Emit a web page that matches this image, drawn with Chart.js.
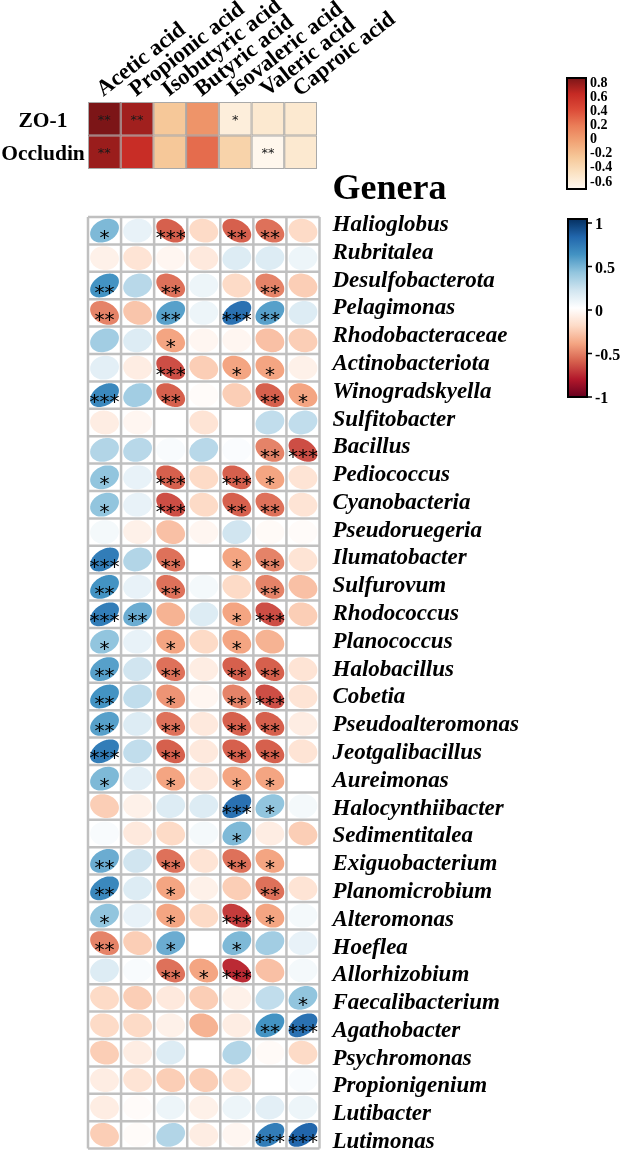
<!DOCTYPE html>
<html><head><meta charset="utf-8">
<script src="https://cdn.jsdelivr.net/npm/chart.js@4.4.1/dist/chart.umd.min.js"></script>
<style>
html,body{margin:0;padding:0;background:#fff;}
#wrap{position:relative;width:624px;height:1158px;overflow:hidden;}
#wrap canvas{position:absolute;left:0;top:0;}
</style></head><body>
<div id="wrap"><canvas id="cTop" width="624" height="1158"></canvas><canvas id="cBot" width="624" height="1158"></canvas></div>
<script>
// ---------- DATA ----------
const acids = ["Acetic acid","Propionic acid","Isobutyric acid","Butyric acid","Isovaleric acid","Valeric acid","Caproic acid"];
const proteins = ["ZO-1","Occludin"];
const zo1Values = [0.80, 0.70, -0.20, 0.08, -0.50, -0.45, -0.45];
const zo1Sig = ["**","**","","","*","",""];
const occludinValues = [0.72, 0.58, -0.20, 0.27, -0.28, -0.58, -0.45];
const occludinSig = ["**","","","","","**",""];
const topLegendTicks = [0.8,0.6,0.4,0.2,0,-0.2,-0.4,-0.6];
const corrLegendTicks = [1,0.5,0,-0.5,-1];

const genera = ["Halioglobus","Rubritalea","Desulfobacterota","Pelagimonas","Rhodobacteraceae","Actinobacteriota","Winogradskyella","Sulfitobacter","Bacillus","Pediococcus","Cyanobacteria","Pseudoruegeria","Ilumatobacter","Sulfurovum","Rhodococcus","Planococcus","Halobacillus","Cobetia","Pseudoalteromonas","Jeotgalibacillus","Aureimonas","Halocynthiibacter","Sedimentitalea","Exiguobacterium","Planomicrobium","Alteromonas","Hoeflea","Allorhizobium","Faecalibacterium","Agathobacter","Psychromonas","Propionigenium","Lutibacter","Lutimonas"];

const corrValues = [
 [ 0.45, 0.10,-0.60,-0.20,-0.60,-0.55,-0.20],
 [-0.08,-0.15,-0.05,-0.12, 0.15, 0.15, 0.08],
 [ 0.60, 0.28,-0.55, 0.08,-0.20,-0.50,-0.25],
 [-0.50,-0.28, 0.55, 0.08, 0.75, 0.55, 0.15],
 [ 0.35, 0.15,-0.40,-0.05,-0.05,-0.30,-0.25],
 [ 0.12,-0.10,-0.65,-0.25,-0.40,-0.40,-0.08],
 [ 0.65, 0.35,-0.60,-0.02,-0.25,-0.60,-0.40],
 [-0.10,-0.05, 0.00,-0.15, 0.00, 0.25, 0.25],
 [ 0.30, 0.28, 0.03, 0.28, 0.02,-0.50,-0.65],
 [ 0.40, 0.10,-0.60,-0.20,-0.60,-0.40,-0.15],
 [ 0.40, 0.10,-0.65,-0.20,-0.60,-0.55,-0.15],
 [ 0.05,-0.08,-0.30,-0.05, 0.20,-0.03,-0.02],
 [ 0.70, 0.30,-0.55, 0.00,-0.40,-0.50,-0.15],
 [ 0.60, 0.10,-0.55, 0.05,-0.20,-0.50,-0.30],
 [ 0.70, 0.50,-0.35, 0.15,-0.40,-0.65,-0.25],
 [ 0.40, 0.10,-0.40,-0.20,-0.40,-0.35, 0.00],
 [ 0.55, 0.20,-0.55,-0.10,-0.60,-0.60,-0.15],
 [ 0.60, 0.25,-0.45,-0.05,-0.50,-0.65,-0.15],
 [ 0.55, 0.15,-0.55,-0.12,-0.60,-0.60,-0.10],
 [ 0.70, 0.25,-0.60,-0.12,-0.60,-0.60,-0.15],
 [ 0.45, 0.12,-0.40,-0.12,-0.40,-0.40, 0.00],
 [-0.25,-0.08, 0.15, 0.15, 0.75, 0.40, 0.05],
 [ 0.03,-0.12,-0.20, 0.05, 0.45,-0.10,-0.25],
 [ 0.50, 0.20,-0.55,-0.15,-0.55,-0.40, 0.00],
 [ 0.65, 0.15,-0.40,-0.08,-0.25,-0.55,-0.15],
 [ 0.40, 0.10,-0.40,-0.20,-0.70,-0.40, 0.05],
 [-0.50,-0.25, 0.50, 0.00, 0.45, 0.35, 0.10],
 [ 0.15, 0.03,-0.55,-0.40,-0.75,-0.30, 0.05],
 [-0.20,-0.25,-0.12,-0.25,-0.08, 0.25, 0.40],
 [-0.20,-0.20,-0.08,-0.35,-0.10, 0.60, 0.75],
 [-0.25,-0.10, 0.15, 0.00, 0.30,-0.03,-0.20],
 [-0.10,-0.15,-0.25,-0.25,-0.15, 0.00, 0.03],
 [-0.10,-0.02, 0.08,-0.08, 0.08, 0.12, 0.08],
 [-0.25,-0.02, 0.30,-0.10,-0.05, 0.70, 0.80]
];
const corrSig = [
 ["*","","***","","**","**",""],
 ["","","","","","",""],
 ["**","","**","","","**",""],
 ["**","","**","","***","**",""],
 ["","","*","","","",""],
 ["","","***","","*","*",""],
 ["***","","**","","","**","*"],
 ["","","","","","",""],
 ["","","","","","**","***"],
 ["*","","***","","***","*",""],
 ["*","","***","","**","**",""],
 ["","","","","","",""],
 ["***","","**","","*","**",""],
 ["**","","**","","","**",""],
 ["***","**","","","*","***",""],
 ["*","","*","","*","",""],
 ["**","","**","","**","**",""],
 ["**","","*","","**","***",""],
 ["**","","**","","**","**",""],
 ["***","","**","","**","**",""],
 ["*","","*","","*","*",""],
 ["","","","","***","*",""],
 ["","","","","*","",""],
 ["**","","**","","**","*",""],
 ["**","","*","","","**",""],
 ["*","","*","","***","*",""],
 ["**","","*","","*","",""],
 ["","","**","*","***","",""],
 ["","","","","","","*"],
 ["","","","","","**","***"],
 ["","","","","","",""],
 ["","","","","","",""],
 ["","","","","","",""],
 ["","","","","","***","***"]
];

// ---------- COLOUR MAPS ----------
const rdbu = ["#67001F","#B2182B","#D6604D","#F4A582","#FDDBC7","#FFFFFF","#D1E5F0","#92C5DE","#4393C3","#2166AC","#053061"];
const topStops = [[-0.6,"#fff9f2"],[-0.4,"#fbe3c4"],[-0.2,"#f6c899"],[0,"#f1a375"],[0.2,"#ea7d58"],[0.4,"#dc4b38"],[0.6,"#c62a24"],[0.8,"#7c1517"]];
function hex(h){return [parseInt(h.substr(1,2),16),parseInt(h.substr(3,2),16),parseInt(h.substr(5,2),16)];}
function mix(a,b,t){const A=hex(a),B=hex(b);return "rgb("+A.map((v,i)=>Math.round(v+(B[i]-v)*t)).join(",")+")";}
function corrColor(v){v=Math.max(-1,Math.min(1,v));const p=(v+1)/2*(rdbu.length-1);const i=Math.min(rdbu.length-2,Math.floor(p));return mix(rdbu[i],rdbu[i+1],p-i);}
function topColor(v){v=Math.max(-0.6,Math.min(0.8,v));for(let i=0;i<topStops.length-1;i++){const a=topStops[i],b=topStops[i+1];if(v<=b[0]){return mix(a[1],b[1],(v-a[0])/(b[0]-a[0]));}}return topStops[topStops.length-1][1];}

const SERIF = '"Liberation Serif","Times New Roman",serif';

// ---------- TOP HEATMAP ----------
const topPoints = [];
[zo1Values, occludinValues].forEach((vals,r)=>{
  const sig = r===0?zo1Sig:occludinSig;
  vals.forEach((v,c)=>topPoints.push({x:c,y:r,v:v,s:sig[c]}));
});

const topPlugin = {
  id:'topHeat',
  afterDatasetsDraw(chart){
    const ctx=chart.ctx, xs=chart.scales.x, ys=chart.scales.y;
    const meta=chart.getDatasetMeta(0);
    ctx.save();
    meta.data.forEach((el,i)=>{
      const d=topPoints[i];
      const x0=xs.getPixelForValue(d.x-0.5), x1=xs.getPixelForValue(d.x+0.5);
      const y0=ys.getPixelForValue(d.y-0.5), y1=ys.getPixelForValue(d.y+0.5);
      ctx.fillStyle=topColor(d.v);
      ctx.fillRect(x0,y0,x1-x0,y1-y0);
      ctx.strokeStyle="#a9a9a9"; ctx.lineWidth=1;
      ctx.strokeRect(x0+0.5,y0+0.5,x1-x0-1,y1-y0-1);
      if(d.s){
        ctx.fillStyle="#1a1a1a"; ctx.font='13px "DejaVu Sans",sans-serif';
        ctx.textAlign="center"; ctx.textBaseline="alphabetic";
        ctx.fillText(d.s, el.x, el.y+5);
      }
    });
    // column labels
    ctx.fillStyle="#000"; ctx.font='bold 22.5px '+SERIF;
    ctx.textAlign="left"; ctx.textBaseline="alphabetic";
    acids.forEach((a,c)=>{
      ctx.save();
      ctx.translate(xs.getPixelForValue(c)-1, chart.chartArea.top-5);
      ctx.rotate(-38*Math.PI/180);
      ctx.fillText(a,0,0);
      ctx.restore();
    });
    // row labels
    ctx.textAlign="center"; ctx.font='bold 21.5px '+SERIF;
    proteins.forEach((p,r)=>{ ctx.fillText(p, 43, ys.getPixelForValue(r)+8); });
    // top colour legend
    const bx=567,bw=19,by=78,bh=111;
    const g=ctx.createLinearGradient(0,by,0,by+bh);
    topStops.slice().reverse().forEach(s=>g.addColorStop((0.8-s[0])/1.4,s[1]));
    ctx.fillStyle=g; ctx.fillRect(bx,by,bw,bh);
    ctx.strokeStyle="#000"; ctx.lineWidth=2; ctx.strokeRect(bx,by,bw,bh);
    ctx.fillStyle="#000"; ctx.font='bold 14px '+SERIF; ctx.textAlign="left"; ctx.textBaseline="middle";
    topLegendTicks.forEach(t=>{ ctx.fillText(String(t), 590, 83+(0.8-t)/0.2*14.14); });
    ctx.restore();
  }
};

new Chart(document.getElementById('cTop'),{
  type:'scatter',
  data:{datasets:[{data:topPoints,pointRadius:0,pointHoverRadius:0}]},
  options:{
    responsive:false, animation:false, events:[],
    layout:{padding:{left:88,right:624-317,top:102,bottom:1158-169}},
    plugins:{legend:{display:false},tooltip:{enabled:false}},
    scales:{
      x:{type:'linear',min:-0.5,max:6.5,display:false},
      y:{type:'linear',min:-0.5,max:1.5,reverse:true,display:false}
    }
  },
  plugins:[topPlugin]
});

// ---------- LOWER CORRPLOT ----------
const corrPoints = [];
corrValues.forEach((row,r)=>row.forEach((v,c)=>corrPoints.push({x:c,y:r,v:v,s:corrSig[r][c]})));

function ellipse(ctx,cx,cy,w,h,rho){
  const rs=Math.max(-0.99,Math.min(0.99,rho*0.58));
  const a=Math.acos(rs)/2;
  ctx.beginPath();
  for(let k=0;k<=80;k++){
    const t=k/80*2*Math.PI;
    const ex=Math.cos(t+a)/2*0.87*w, ey=Math.cos(t-a)/2*0.87*h;
    if(k===0)ctx.moveTo(cx+ex,cy-ey); else ctx.lineTo(cx+ex,cy-ey);
  }
  ctx.closePath();
}

const corrPlugin = {
  id:'corrEll',
  beforeDatasetsDraw(chart){
    const {ctx,chartArea:ca}=chart;
    ctx.save(); ctx.fillStyle="#fff"; ctx.fillRect(ca.left,ca.top,ca.right-ca.left,ca.bottom-ca.top); ctx.restore();
  },
  afterDatasetsDraw(chart){
    const ctx=chart.ctx, xs=chart.scales.x, ys=chart.scales.y, yl=chart.scales.yLab;
    const ca=chart.chartArea;
    const w=Math.abs(xs.getPixelForValue(1)-xs.getPixelForValue(0));
    const h=Math.abs(ys.getPixelForValue(1)-ys.getPixelForValue(0));
    const meta=chart.getDatasetMeta(0);
    ctx.save();
    meta.data.forEach((el,i)=>{
      const d=corrPoints[i];
      ellipse(ctx,el.x,el.y,w,h,d.v);
      ctx.fillStyle=corrColor(d.v); ctx.fill();
    });
    // grid
    ctx.strokeStyle="#c0c0c0"; ctx.lineWidth=2.5;
    for(let c=0;c<=acids.length;c++){const x=xs.getPixelForValue(c-0.5);ctx.beginPath();ctx.moveTo(x,ca.top);ctx.lineTo(x,ca.bottom);ctx.stroke();}
    for(let r=0;r<=genera.length;r++){const y=ys.getPixelForValue(r-0.5);ctx.beginPath();ctx.moveTo(ca.left,y);ctx.lineTo(ca.right,y);ctx.stroke();}
    // stars
    ctx.fillStyle="#000"; ctx.font='20px "DejaVu Sans",sans-serif'; ctx.textAlign="center"; ctx.textBaseline="alphabetic";
    meta.data.forEach((el,i)=>{ const d=corrPoints[i]; if(d.s) ctx.fillText(d.s, el.x, el.y+13); });
    // labels
    ctx.textAlign="left";
    ctx.font='bold 36px '+SERIF; ctx.fillText("Genera", ca.right+13, 199);
    ctx.font='italic bold 23px '+SERIF;
    genera.forEach((g,r)=>ctx.fillText(g, ca.right+13, yl.getPixelForValue(r)));
    // colour legend
    const bx=568,bw=19,by=219,bh=178;
    const gr=ctx.createLinearGradient(0,by,0,by+bh);
    rdbu.slice().reverse().forEach((c,i)=>gr.addColorStop(i/(rdbu.length-1),c));
    ctx.fillStyle=gr; ctx.fillRect(bx,by,bw,bh);
    ctx.strokeStyle="#000"; ctx.lineWidth=2; ctx.strokeRect(bx,by,bw,bh);
    ctx.lineWidth=1.5; ctx.fillStyle="#000"; ctx.font='bold 16px '+SERIF; ctx.textBaseline="middle";
    corrLegendTicks.forEach(t=>{
      const y=by+4+(1-t)/2*(bh-4);
      ctx.beginPath(); ctx.moveTo(bx+bw,y); ctx.lineTo(bx+bw+5,y); ctx.stroke();
      ctx.fillText(String(t), 595, y+2);
    });
    ctx.restore();
  }
};

new Chart(document.getElementById('cBot'),{
  type:'scatter',
  data:{datasets:[{data:corrPoints,pointRadius:0,pointHoverRadius:0}]},
  options:{
    responsive:false, animation:false, events:[],
    layout:{padding:{left:88,right:624-319.5,top:217,bottom:1158-1148.6}},
    plugins:{legend:{display:false},tooltip:{enabled:false}},
    scales:{
      x:{type:'linear',min:-0.5,max:6.5,display:false},
      y:{type:'linear',min:-0.5,max:33.5,reverse:true,display:false},
      yLab:{type:'linear',axis:'y',min:-0.504,max:33.02,reverse:true,display:false}
    }
  },
  plugins:[corrPlugin]
});
</script>
</body></html>
